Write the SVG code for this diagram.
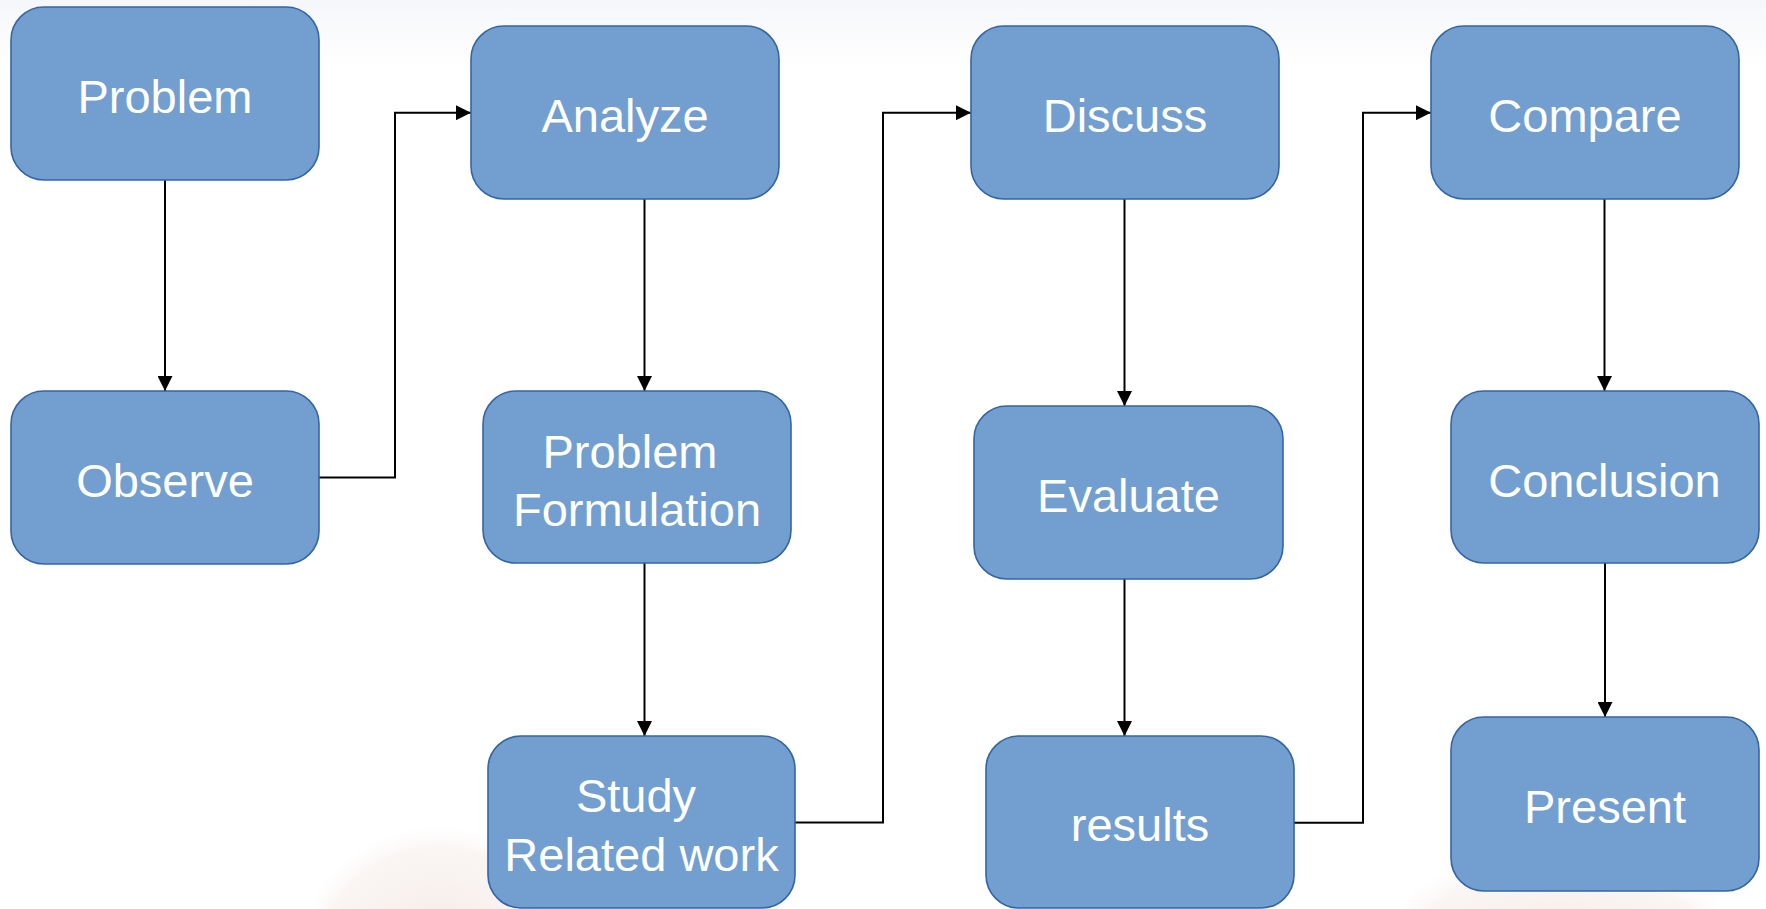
<svg xmlns="http://www.w3.org/2000/svg" width="1766" height="909" viewBox="0 0 1766 909">
  <defs>
    <linearGradient id="bgTop" x1="0" y1="0" x2="0" y2="1">
      <stop offset="0" stop-color="#f6f7fb"/>
      <stop offset="1" stop-color="#ffffff"/>
    </linearGradient>
    <radialGradient id="fadeWarm" cx="0.5" cy="0.5" r="0.5">
      <stop offset="0" stop-color="#e9d6cf" stop-opacity="0.55"/>
      <stop offset="0.8" stop-color="#f1e4df" stop-opacity="0.35"/>
      <stop offset="1" stop-color="#ffffff" stop-opacity="0"/>
    </radialGradient>
    <marker id="arrow" viewBox="0 0 15 15" refX="15" refY="7.5" markerWidth="15" markerHeight="15" markerUnits="userSpaceOnUse" orient="auto">
      <path d="M0,0 L15,7.5 L0,15 Z" fill="#000"/>
    </marker>
    <style>
      .box { fill: #729fcf; stroke: #3465a4; stroke-width: 1.6; }
      .label { font-family: "Liberation Sans", Arial, sans-serif; font-size: 47px; fill: #ffffff; text-anchor: middle; }
      .link { fill: none; stroke: #000; stroke-width: 2; marker-end: url(#arrow); }
    </style>
  </defs>

  <!-- page background -->
  <rect x="0" y="0" width="1766" height="909" fill="#ffffff"/>
  <rect x="0" y="0" width="1766" height="70" fill="url(#bgTop)"/>
  <!-- faded backdrop artwork along the bottom edge -->
  <ellipse cx="440" cy="960" rx="150" ry="140" fill="url(#fadeWarm)"/>
  <ellipse cx="1560" cy="970" rx="200" ry="130" fill="url(#fadeWarm)"/>

  <!-- connectors -->
  <g id="connectors">
    <path class="link" d="M165,180 V391"/>
    <path class="link" d="M319,477.5 H395 V112.7 H471"/>
    <path class="link" d="M644.5,199 V391"/>
    <path class="link" d="M644.5,563 V736"/>
    <path class="link" d="M795,822.5 H883 V112.7 H971"/>
    <path class="link" d="M1124.5,199 V406"/>
    <path class="link" d="M1124.5,579 V736"/>
    <path class="link" d="M1294,822.7 H1363 V112.7 H1431"/>
    <path class="link" d="M1604.5,199 V391"/>
    <path class="link" d="M1605,563 V717"/>
  </g>

  <!-- column 1 -->
  <g id="problem">
    <rect class="box" x="11" y="7" width="308" height="173" rx="33"/>
    <text class="label" x="165" y="113">Problem</text>
  </g>
  <g id="observe">
    <rect class="box" x="11" y="391" width="308" height="173" rx="33"/>
    <text class="label" x="165" y="497">Observe</text>
  </g>

  <!-- column 2 -->
  <g id="analyze">
    <rect class="box" x="471" y="26" width="308" height="173" rx="33"/>
    <text class="label" x="625" y="132">Analyze</text>
  </g>
  <g id="problem-formulation">
    <rect class="box" x="483" y="391" width="308" height="172" rx="33"/>
    <text class="label" x="630" y="468">Problem</text>
    <text class="label" x="637" y="526">Formulation</text>
  </g>
  <g id="study-related-work">
    <rect class="box" x="488" y="736" width="307" height="172" rx="33"/>
    <text class="label" x="636" y="812">Study</text>
    <text class="label" x="641.5" y="871">Related work</text>
  </g>

  <!-- column 3 -->
  <g id="discuss">
    <rect class="box" x="971" y="26" width="308" height="173" rx="33"/>
    <text class="label" x="1125" y="132">Discuss</text>
  </g>
  <g id="evaluate">
    <rect class="box" x="974" y="406" width="309" height="173" rx="33"/>
    <text class="label" x="1128.5" y="512">Evaluate</text>
  </g>
  <g id="results">
    <rect class="box" x="986" y="736" width="308" height="172" rx="33"/>
    <text class="label" x="1140" y="841">results</text>
  </g>

  <!-- column 4 -->
  <g id="compare">
    <rect class="box" x="1431" y="26" width="308" height="173" rx="33"/>
    <text class="label" x="1585" y="132">Compare</text>
  </g>
  <g id="conclusion">
    <rect class="box" x="1451" y="391" width="308" height="172" rx="33"/>
    <text class="label" x="1604.5" y="497">Conclusion</text>
  </g>
  <g id="present">
    <rect class="box" x="1451" y="717" width="308" height="174" rx="33"/>
    <text class="label" x="1605" y="823">Present</text>
  </g>
</svg>
